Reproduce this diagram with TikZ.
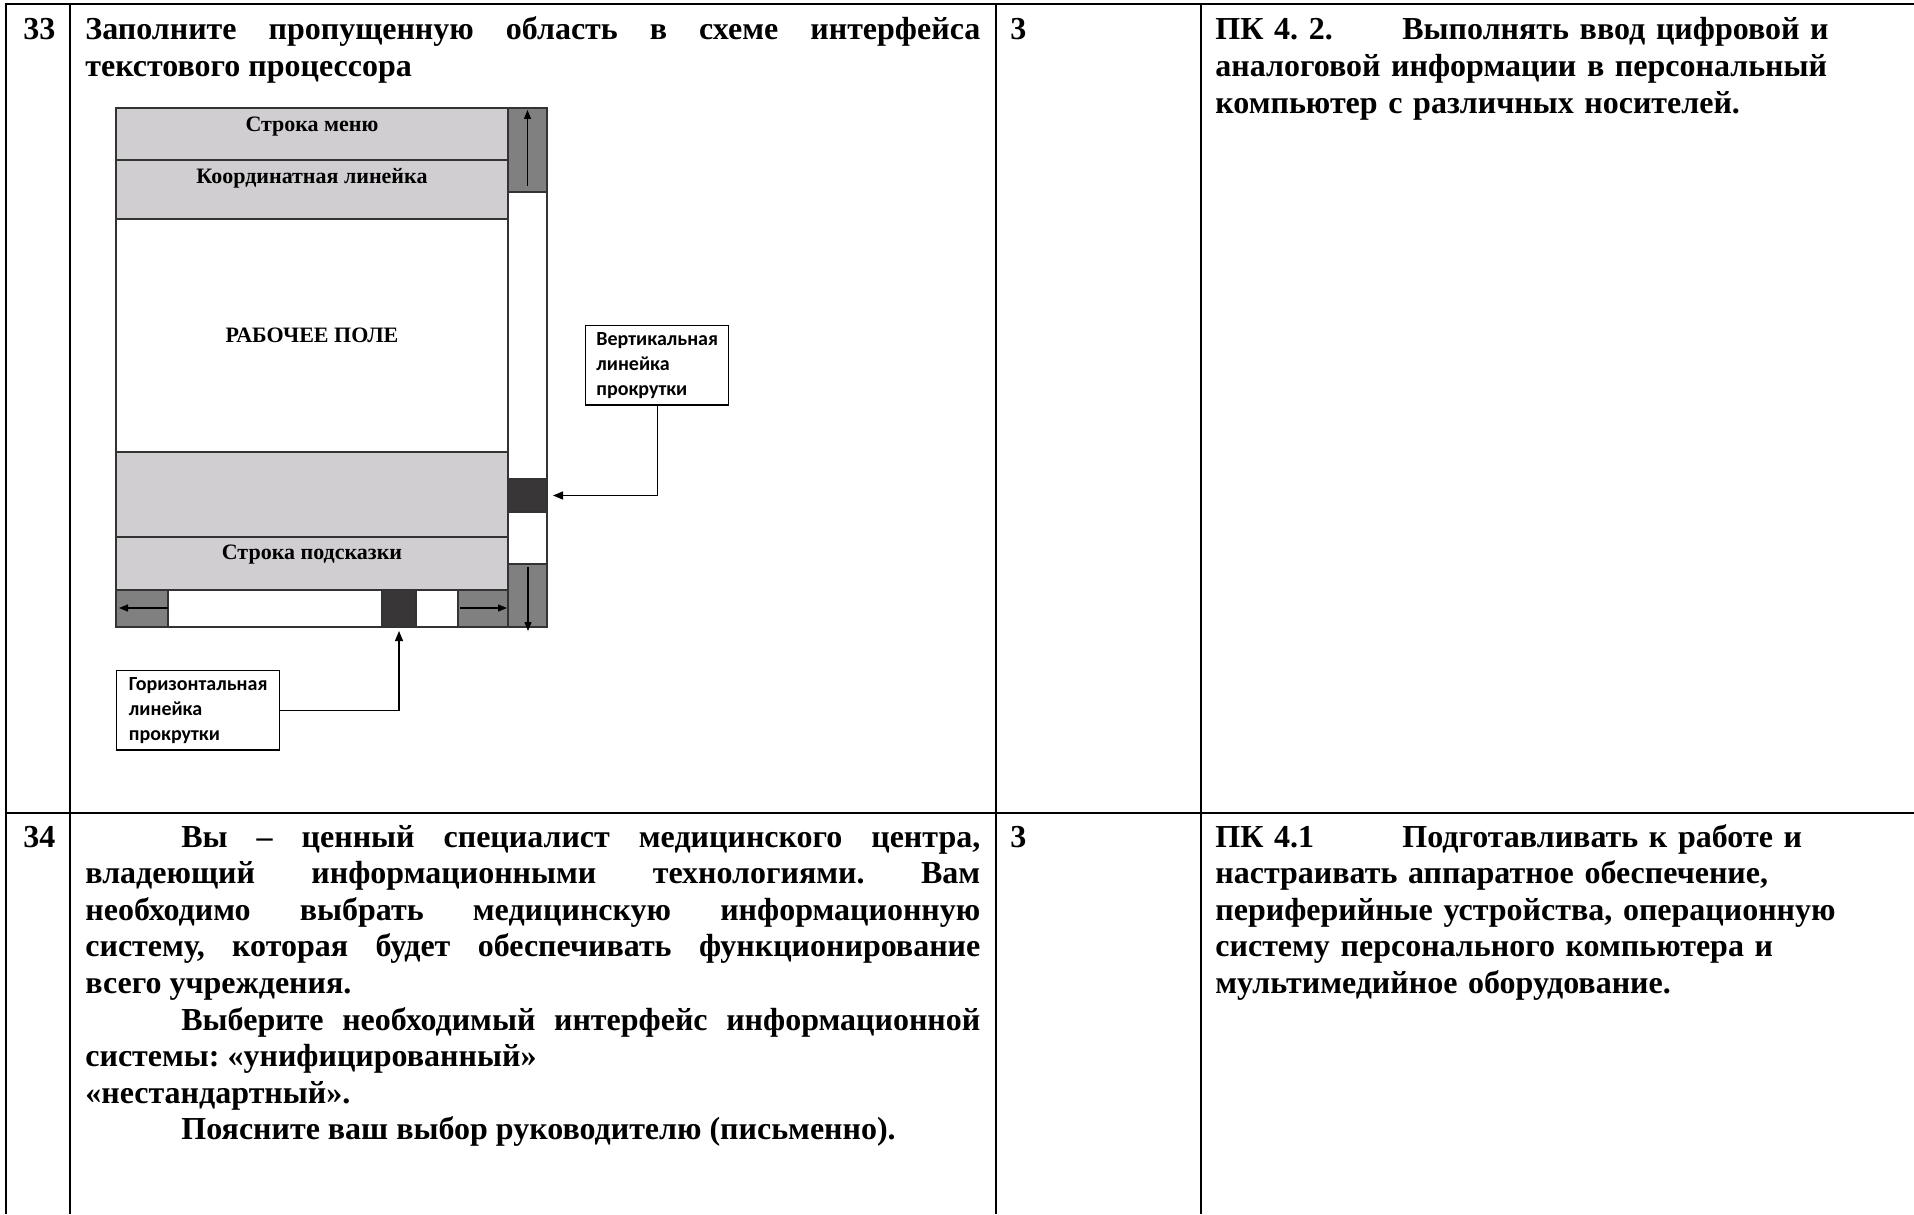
\documentclass[tikz,border=0pt]{standalone}
\usepackage{fontspec}
\setmainfont{Liberation Serif}
\newfontfamily\calloutfont{Carlito}
\usepackage{xcolor}
\usetikzlibrary{arrows.meta, positioning}
\hyphenpenalty=10000
\exhyphenpenalty=10000
\frenchspacing

\definecolor{panelgray}{RGB}{208,206,208}
\definecolor{buttongray}{RGB}{128,128,128}
\definecolor{thumbgray}{RGB}{56,54,54}

\tikzset{
  tablerule/.style={line width=1.3pt},
  celltext/.style={anchor=base west, inner sep=0pt, font=\fontsize{16pt}{18.3pt}\selectfont\bfseries},
  panel/.style={draw=black!80, line width=0.7pt, fill=panelgray},
  blank/.style={draw=black!80, line width=0.7pt, fill=white},
  button/.style={draw=black!80, line width=0.7pt, fill=buttongray},
  thumb/.style={draw=black!80, line width=0.7pt, fill=thumbgray, inner sep=0pt, outer sep=0pt},
  paneltext/.style={font=\fontsize{11pt}{13pt}\selectfont\bfseries, inner sep=0pt},
  callout/.style={draw, line width=0.7pt, align=left, minimum height=37pt, inner xsep=5pt,
    font=\calloutfont\bfseries\fontsize{10pt}{12.5pt}\selectfont},
  pointer/.style={-{Triangle[length=5pt,width=4pt]}, line width=0.6pt},
  bararrow/.style={-{Triangle[length=4.5pt,width=3.5pt]}, line width=0.6pt}
}

\begin{document}
\begin{tikzpicture}[x=0.5pt, y=-0.5pt]
\useasboundingbox (0,0) rectangle (1914,1214);

% Table rules
\draw[tablerule] (1914,4) -- (6,4) -- (6,1214);
\draw[tablerule] (6,813) -- (1914,813);
\foreach \x in {70,996,1201}
  \draw[tablerule] (\x,4) -- (\x,1214);

% Row 33
\node[celltext] (num33) at (23,40) {33};
\node[celltext, text width=447.5pt, align=justify] (task33) at (85,40)
  {Заполните пропущенную область в схеме интерфейса\linebreak текстового процессора};
\node[celltext] (score33) at (1010,40) {3};
\node[celltext, text width=345pt, align=left] (comp33) at (1215,40)
  {\makebox[93.5pt][l]{ПК 4. 2.}Выполнять ввод цифровой и\\
   аналоговой информации в персональный\\
   компьютер с различных носителей.};

% Window panels
\draw[panel] (116,108) rectangle (508,160);
\draw[panel] (116,160) rectangle (508,219);
\draw[blank] (116,219) rectangle (508,452);
\draw[panel] (116,452) rectangle (508,537);
\draw[panel] (116,537) rectangle (508,590);
\node[paneltext] (menu) at (312,127) {Строка меню};
\node[paneltext] (ruler) at (312,178) {Координатная линейка};
\node[paneltext] (work) at (312,335) {РАБОЧЕЕ ПОЛЕ};
\node[paneltext] (hint) at (312,555) {Строка подсказки};

% Horizontal scroll bar
\draw[button] (116,590) rectangle (168,627);
\draw[blank] (168,590) rectangle (458,627);
\draw[button] (458,590) rectangle (508,627);
\node[thumb, minimum width=17pt, minimum height=18.5pt] (hthumb) at (399,608.5) {};
\draw[bararrow] (168,608) -- (119,608);
\draw[bararrow] (460,608) -- (507,608);

% Vertical scroll bar
\draw[button] (508,108) rectangle (547,192);
\draw[blank] (508,192) rectangle (547,564);
\draw[button] (508,564) rectangle (547,627);
\node[thumb, minimum width=19.5pt, minimum height=16.5pt] (vthumb) at (527.5,495.5) {};
\draw[bararrow] (527.5,186) -- (527.5,110);
\draw[bararrow] (528,567) -- (528,631);

% Callouts
\node[callout, minimum width=71.5pt, anchor=north west] (vcall) at (585,325)
  {Вертикальная\\линейка\\прокрутки};
\node[callout, minimum width=81.5pt, anchor=north west] (hcall) at (116,670)
  {Горизонтальная\\линейка\\прокрутки};
\draw[pointer, shorten >=3pt] (vcall.south) |- (vthumb.east);
\draw[pointer, shorten >=2pt] (hcall.east) -| (hthumb.south);

% Row 34
\node[celltext] (num34) at (23,847) {34};
\node[celltext, text width=447.5pt, align=justify] (task34) at (85,847)
  {\hspace*{48pt}Вы – ценный специалист медицинского центра,\linebreak
   владеющий информационными технологиями. Вам\linebreak
   необходимо выбрать медицинскую информационную\linebreak
   систему, которая будет обеспечивать функционирование\linebreak
   всего учреждения.\\
   \hspace*{48pt}Выберите необходимый интерфейс информационной\linebreak
   системы: «унифицированный»\\
   «нестандартный».\\
   \hspace*{48pt}Поясните ваш выбор руководителю (письменно).};
\node[celltext] (score34) at (1010,847) {3};
\node[celltext, text width=345pt, align=left] (comp34) at (1215,847)
  {\makebox[93.5pt][l]{ПК 4.1}Подготавливать к работе и\\
   настраивать аппаратное обеспечение,\\
   периферийные устройства, операционную\\
   систему персонального компьютера и\\
   мультимедийное оборудование.};
\end{tikzpicture}
\end{document}
